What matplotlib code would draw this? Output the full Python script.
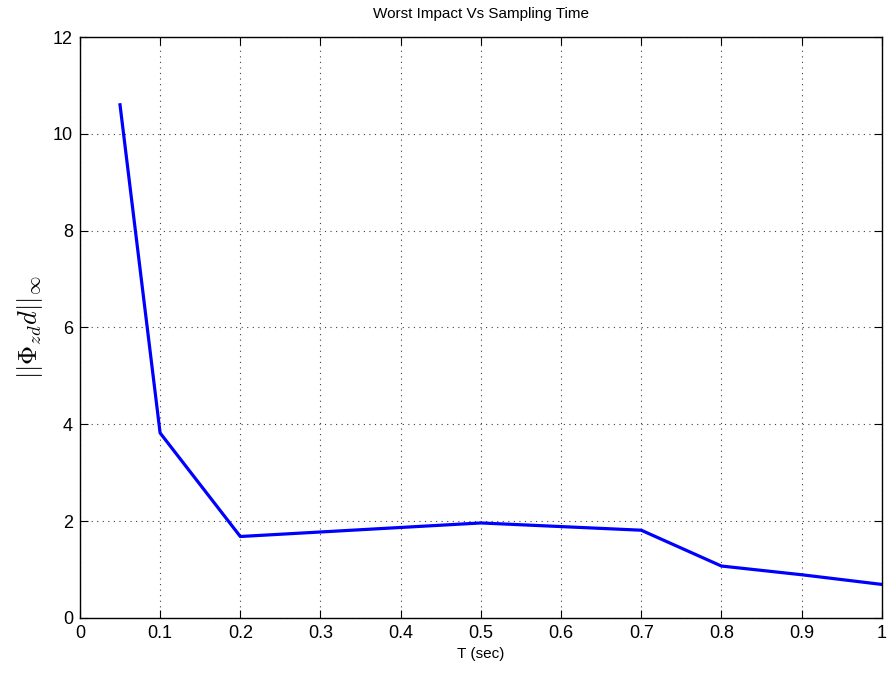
import matplotlib
matplotlib.use("Agg")
import matplotlib.pyplot as plt

T = [0.05, 0.1, 0.2, 0.5, 0.7, 0.8, 0.9, 1.0]
impact = [10.6, 3.82, 1.68, 1.96, 1.81, 1.07, 0.89, 0.69]

plt.rcParams["font.family"] = ["Liberation Sans", "DejaVu Sans"]
plt.rcParams["mathtext.fontset"] = "cm"

fig = plt.figure(figsize=(8.88, 6.73), dpi=100)
ax = fig.add_axes([0.090, 0.082, 0.903, 0.863])
ax.plot(T, impact, color="#0000ff", linewidth=2.3)

ax.set_xlim(0, 1)
ax.set_ylim(0, 12)
ax.set_xticks([i / 10 for i in range(11)])
ax.set_xticklabels(["0", "0.1", "0.2", "0.3", "0.4", "0.5", "0.6", "0.7", "0.8", "0.9", "1"])
ax.set_yticks(range(0, 13, 2))
ax.tick_params(direction="in", labelsize=13, length=6, top=True, right=True, pad=5)
ax.grid(True, linestyle=(0, (1, 4)), color="#404040", linewidth=0.8)
for s in ax.spines.values():
    s.set_linewidth(1.0)

ax.set_title("Worst Impact Vs Sampling Time", fontsize=11, pad=14)
ax.set_xlabel("T (sec)", fontsize=11, labelpad=4)
ax.set_ylabel(r"$||\Phi_{zd}d||_\infty$", fontsize=19, labelpad=6)

fig.savefig("out.png", dpi=100)
